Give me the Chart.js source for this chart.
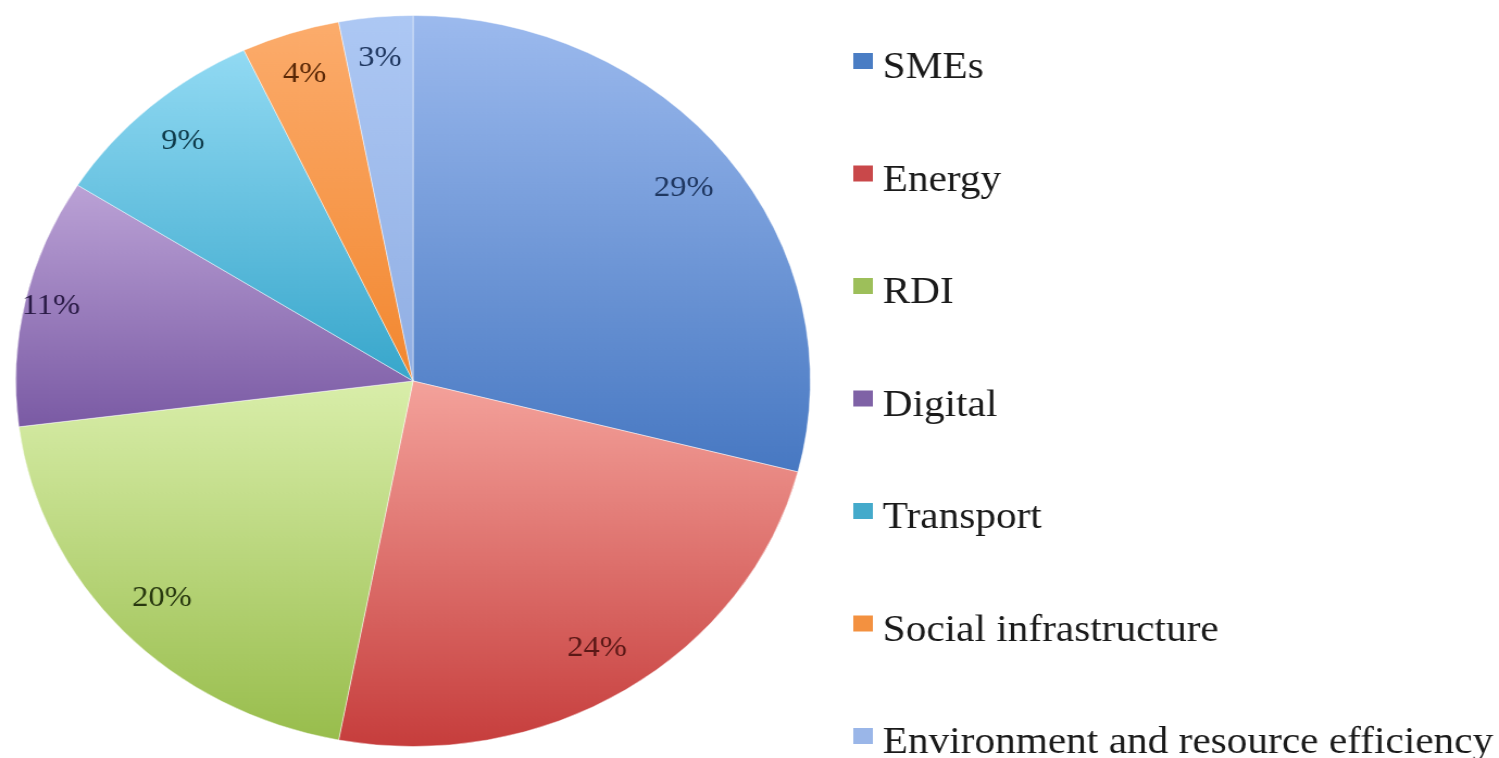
<!DOCTYPE html>
<html>
<head>
<meta charset="utf-8">
<script src="https://cdn.jsdelivr.net/npm/chart.js@4.4.0/dist/chart.umd.min.js"></script>
<style>
  html, body { margin: 0; padding: 0; background: #ffffff; overflow: hidden; }
  /* the whole figure is drawn in a square-pixel space and widened to the page width */
  #wrap { width: 1379px; height: 758px; transform: scaleX(1.087); transform-origin: 0 0; }
  #c { display: block; width: 1379px; height: 758px; }
</style>
</head>
<body>
<div id="wrap"><canvas id="c" width="1379" height="758"></canvas></div>
<script>
// Share of funding by sector
const categories = ['SMEs', 'Energy', 'RDI', 'Digital', 'Transport', 'Social infrastructure', 'Environment and resource efficiency'];
const shares = [29, 24, 20, 11, 9, 4, 3];
const percentLabels = ['29%', '24%', '20%', '11%', '9%', '4%', '3%'];

// slice shading: light at the top of each slice, deeper at its bottom
const colorsTop    = ['#9cbaee', '#f4a29b', '#d9eeaa', '#bba2d6', '#92daf3', '#fcac6c', '#adc8f4'];
const colorsBottom = ['#4778c2', '#c63d3c', '#98bd4c', '#7a5aa4', '#37a6cb', '#f2872f', '#90aee3'];
const legendColors = ['#4a7dc4', '#c9484a', '#9dbf5a', '#7f62a6', '#44aacb', '#f39140', '#9ab6e8'];
const labelColors  = ['#1f3760', '#5a1816', '#28380f', '#2a1b46', '#0f3b4b', '#5a2806', '#1f3760'];

// radial placement of each percentage label, as a fraction of the radius
const labelRadius = [0.862, 0.864, 0.867, 0.934, 0.876, 0.883, 0.886];

const total = shares.reduce((a, b) => a + b, 0);

function sliceGradient(context) {
  const chart = context.chart;
  const area = chart.chartArea;
  const i = context.dataIndex;
  if (!area || i === undefined) return legendColors[i] || '#999';
  const cx = (area.left + area.right) / 2;
  const cy = (area.top + area.bottom) / 2;
  const r = Math.min(area.right - area.left, area.bottom - area.top) / 2;
  let cum = 0;
  for (let k = 0; k < i; k++) cum += shares[k];
  const start = -Math.PI / 2 + 2 * Math.PI * cum / total;
  const end = start + 2 * Math.PI * shares[i] / total;
  const ys = [cy, cy + r * Math.sin(start), cy + r * Math.sin(end)];
  [-Math.PI / 2, Math.PI / 2, 3 * Math.PI / 2].forEach(a => {
    if (a >= start && a <= end) ys.push(cy + r * Math.sin(a));
  });
  const g = chart.ctx.createLinearGradient(0, Math.min(...ys), 0, Math.max(...ys));
  g.addColorStop(0, colorsTop[i]);
  g.addColorStop(1, colorsBottom[i]);
  return g;
}

const percentLabelPlugin = {
  id: 'percentLabels',
  afterDatasetsDraw(chart) {
    const ctx = chart.ctx;
    const arcs = chart.getDatasetMeta(0).data;
    ctx.save();
    ctx.font = '30px "Liberation Serif", "Times New Roman", serif';
    ctx.textAlign = 'center';
    ctx.textBaseline = 'middle';
    arcs.forEach((arc, i) => {
      const mid = (arc.startAngle + arc.endAngle) / 2;
      const rr = arc.outerRadius * labelRadius[i];
      ctx.fillStyle = labelColors[i];
      ctx.fillText(percentLabels[i], arc.x + Math.cos(mid) * rr, arc.y + Math.sin(mid) * rr);
    });
    ctx.restore();
  }
};

const sideLegendPlugin = {
  id: 'sideLegend',
  afterDraw(chart) {
    const ctx = chart.ctx;
    const labels = chart.data.labels;
    ctx.save();
    ctx.font = '38px "Liberation Serif", "Times New Roman", serif';
    ctx.textAlign = 'left';
    ctx.textBaseline = 'alphabetic';
    labels.forEach((name, i) => {
      const baseline = 78 + i * 112.5;
      ctx.fillStyle = legendColors[i];
      ctx.fillRect(785, baseline - 25, 18, 16);
      ctx.fillStyle = '#1a1a1a';
      ctx.fillText(name, 812, baseline);
    });
    ctx.restore();
  }
};

new Chart(document.getElementById('c'), {
  type: 'pie',
  data: {
    labels: categories,
    datasets: [{
      data: shares,
      backgroundColor: sliceGradient,
      borderColor: 'rgba(255,255,255,0.45)',
      borderWidth: 1
    }]
  },
  options: {
    responsive: false,
    animation: false,
    events: [],
    layout: { padding: { left: 14, top: 15, right: 633, bottom: 11 } },
    plugins: {
      legend: { display: false },
      tooltip: { enabled: false }
    }
  },
  plugins: [percentLabelPlugin, sideLegendPlugin]
});
</script>
</body>
</html>
